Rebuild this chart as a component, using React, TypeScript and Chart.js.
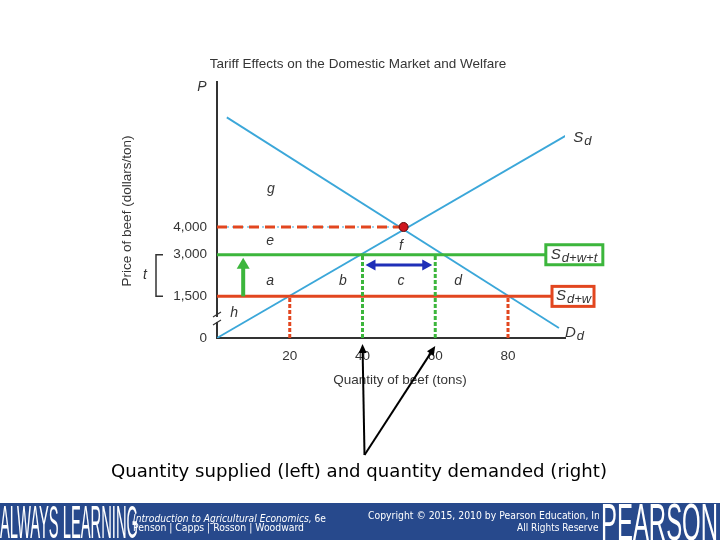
import React, { useEffect, useRef } from "react";
import { Chart, registerables } from "chart.js";
Chart.register(...registerables);

// ---------- data ----------
const xTickValues = [20, 40, 60, 80];
const yTickValues = [0, 1500, 3000, 4000];
const xMax = 95.67;
const yMax = 9225;
const supplyQ = [0, 96];
const supplyP = [0, 7300];
const demandQ = [2.7, 94];
const demandP = [7950, 360];
const worldPrice = 1500;
const tariffPrice = 3000;
const autarkyPrice = 4000;
const autarkyQ = 51.3;
const worldLineEndQ = 92.1;
const tariffLineEndQ = 90.4;
const worldQs = [20, 80];
const tariffQs = [40, 60];
const areaLabels = ["g", "e", "f", "a", "b", "c", "d", "h"];
const areaQ = [14.8, 14.6, 50.6, 14.6, 34.6, 50.6, 66.3, 4.7];
const areaP = [5370, 3500, 3310, 2050, 2050, 2050, 2050, 900];
const tariffArrowQ = 7.2;
const importArrowP = 2630;
const breakP = 650;

const title = "Tariff Effects on the Domestic Market and Welfare";
const yTitle = "Price of beef (dollars/ton)";
const xTitle = "Quantity of beef (tons)";
const caption = "Quantity supplied (left) and quantity demanded (right)";

const BLUE = "#3ba7d9";
const RED = "#e2461f";
const GREEN = "#3cb63c";
const NAVY = "#1f2fb8";
const TEXT = "#353535";
const FONT = "'Liberation Sans', Arial, sans-serif";
const VFONT = "'DejaVu Sans', Verdana, sans-serif";

function pts(xs: number[], ys: number[]) {
  return xs.map((x, i) => ({ x, y: ys[i] }));
}

function fitText(ctx: CanvasRenderingContext2D, text: string, x: number, y: number, width: number, font: string) {
  ctx.save();
  ctx.font = font;
  const w = ctx.measureText(text).width;
  ctx.translate(x, y);
  ctx.scale(width / w, 1);
  ctx.textAlign = "left";
  ctx.textBaseline = "alphabetic";
  ctx.fillText(text, 0, 0);
  ctx.restore();
}

function head(ctx: CanvasRenderingContext2D, x1: number, y1: number, x2: number, y2: number, len: number, half: number) {
  const a = Math.atan2(y2 - y1, x2 - x1);
  const c = Math.cos(a), s = Math.sin(a);
  ctx.beginPath();
  ctx.moveTo(x2, y2);
  ctx.lineTo(x2 - len * c + half * s, y2 - len * s - half * c);
  ctx.lineTo(x2 - len * c - half * s, y2 - len * s + half * c);
  ctx.closePath();
  ctx.fill();
}

function subLabel(ctx: CanvasRenderingContext2D, x: number, y: number, main: string, sub: string) {
  ctx.save();
  ctx.fillStyle = TEXT;
  ctx.textAlign = "left";
  ctx.textBaseline = "alphabetic";
  ctx.font = `italic 15px ${FONT}`;
  ctx.fillText(main, x, y);
  const w = ctx.measureText(main).width;
  ctx.font = `italic 13px ${FONT}`;
  ctx.fillText(sub, x + w + 1, y + 3);
  ctx.restore();
}

const annotations = {
  id: "annotations",
  afterDatasetsDraw(chart: any) {
    const ctx: CanvasRenderingContext2D = chart.ctx;
    const xs = chart.scales.x;
    const ys = chart.scales.y;
    const X = (v: number) => xs.getPixelForValue(v);
    const Y = (v: number) => ys.getPixelForValue(v);
    const area = chart.chartArea;

    ctx.save();
    // title
    ctx.fillStyle = TEXT;
    ctx.font = `13.5px ${FONT}`;
    ctx.textAlign = "center";
    ctx.textBaseline = "middle";
    ctx.fillText(title, 358, 64);
    // x title
    ctx.fillText(xTitle, 400, 380);
    // y title
    ctx.save();
    ctx.translate(127, 211);
    ctx.rotate(-Math.PI / 2);
    ctx.fillText(yTitle, 0, 0);
    ctx.restore();
    // P label
    ctx.font = `italic 14px ${FONT}`;
    ctx.fillText("P", area.left - 15, area.top + 5);

    // t bracket
    const yT = Y(tariffPrice), yW = Y(worldPrice);
    ctx.strokeStyle = "#333";
    ctx.lineWidth = 1.5;
    ctx.beginPath();
    ctx.moveTo(163, yT);
    ctx.lineTo(156, yT);
    ctx.lineTo(156, yW);
    ctx.lineTo(163, yW);
    ctx.stroke();
    ctx.fillText("t", 145, (yT + yW) / 2);

    // axis break marks
    const yb = Y(breakP);
    ctx.fillStyle = "#fff";
    ctx.fillRect(area.left - 2, yb - 3, 4, 5);
    ctx.strokeStyle = "#333";
    ctx.lineWidth = 1.2;
    ctx.beginPath();
    ctx.moveTo(area.left - 4, yb - 3);
    ctx.lineTo(area.left + 4, yb - 8);
    ctx.moveTo(area.left - 4, yb + 5);
    ctx.lineTo(area.left + 4, yb);
    ctx.stroke();

    // area letters
    ctx.fillStyle = TEXT;
    ctx.font = `italic 14px ${FONT}`;
    areaLabels.forEach((l, i) => ctx.fillText(l, X(areaQ[i]), Y(areaP[i])));

    // Sd / Dd labels
    const sx = X(supplyQ[1]), sy = Y(supplyP[1]);
    subLabel(ctx, sx + 7, sy + 7, "S", "d");
    const dx = X(demandQ[1]), dy = Y(demandP[1]);
    subLabel(ctx, dx + 6, dy + 9, "D", "d");

    // boxes
    const gx = X(tariffLineEndQ);
    ctx.fillStyle = "#fff";
    ctx.fillRect(gx, yT - 10, 57, 20);
    ctx.strokeStyle = GREEN;
    ctx.lineWidth = 3;
    ctx.strokeRect(gx, yT - 10, 57, 20);
    subLabel(ctx, gx + 5, yT + 4, "S", "d+w+t");
    const rx = X(worldLineEndQ);
    ctx.fillStyle = "#fff";
    ctx.fillRect(rx, yW - 10, 42, 20);
    ctx.strokeStyle = RED;
    ctx.lineWidth = 3;
    ctx.strokeRect(rx, yW - 10, 42, 20);
    subLabel(ctx, rx + 4, yW + 4, "S", "d+w");

    // green tariff arrow
    const ga = X(tariffArrowQ);
    ctx.strokeStyle = GREEN;
    ctx.fillStyle = GREEN;
    ctx.lineWidth = 4;
    ctx.beginPath();
    ctx.moveTo(ga, yW);
    ctx.lineTo(ga, yT + 12);
    ctx.stroke();
    head(ctx, ga, yW, ga, yT + 3, 11, 6.5);

    // blue import arrow
    const ba = Y(importArrowP);
    const b1 = X(tariffQs[0]) + 3, b2 = X(tariffQs[1]) - 3;
    ctx.strokeStyle = NAVY;
    ctx.fillStyle = NAVY;
    ctx.lineWidth = 3;
    ctx.beginPath();
    ctx.moveTo(b1 + 8, ba);
    ctx.lineTo(b2 - 8, ba);
    ctx.stroke();
    head(ctx, b2, ba, b1, ba, 10, 5.5);
    head(ctx, b1, ba, b2, ba, 10, 5.5);

    // black pointer arrows
    const baseX = X(tariffQs[0]) + 2, baseY = 455;
    ctx.strokeStyle = "#000";
    ctx.fillStyle = "#000";
    ctx.lineWidth = 2;
    const tips = [
      [X(tariffQs[0]), 344],
      [X(tariffQs[1]), 346],
    ];
    tips.forEach(([tx, ty]) => {
      const a = Math.atan2(ty - baseY, tx - baseX);
      ctx.beginPath();
      ctx.moveTo(baseX, baseY);
      ctx.lineTo(tx - 7 * Math.cos(a), ty - 7 * Math.sin(a));
      ctx.stroke();
      head(ctx, baseX, baseY, tx, ty, 9, 4);
    });

    // caption
    ctx.fillStyle = "#000";
    fitText(ctx, caption, 111, 477, 496, `17px ${VFONT}`);

    // footer
    ctx.fillStyle = "#27498c";
    ctx.fillRect(0, 503, 720, 37);
    ctx.fillStyle = "#fff";
    fitText(ctx, "ALWAYS LEARNING", 0, 538, 138, `46px ${FONT}`);
    // line 1 mixed italic/normal
    ctx.save();
    ctx.font = `italic 10px ${VFONT}`;
    const p1 = "Introduction to Agricultural Economics,";
    const w1 = ctx.measureText(p1).width;
    ctx.font = `10px ${VFONT}`;
    const p2 = " 6e";
    const w2 = ctx.measureText(p2).width;
    const sc = 193 / (w1 + w2);
    ctx.translate(133, 519);
    ctx.scale(sc, 1);
    ctx.textAlign = "left";
    ctx.font = `italic 10px ${VFONT}`;
    ctx.fillText(p1, 0, 0);
    ctx.font = `10px ${VFONT}`;
    ctx.fillText(p2, w1, 0);
    ctx.restore();
    fitText(ctx, "Penson | Capps | Rosson | Woodward", 133, 531, 171, `10px ${VFONT}`);
    fitText(ctx, "Copyright \u00A9 2015, 2010 by Pearson Education, Inc.", 368, 519, 240, `10px ${VFONT}`);
    fitText(ctx, "All Rights Reserved.", 517, 531, 90, `10px ${VFONT}`);
    ctx.fillStyle = "#27498c";
    ctx.fillRect(599, 503, 121, 37);
    ctx.fillStyle = "#fff";
    fitText(ctx, "PEARSON", 601, 540, 117, `51px ${FONT}`);
    ctx.restore();
  },
};

export default function App() {
  const ref = useRef<HTMLCanvasElement | null>(null);
  useEffect(() => {
    if (!ref.current) return;
    const line = (data: any[], color: string, width: number, dash: number[] = []) => ({
      data,
      showLine: true,
      borderColor: color,
      backgroundColor: color,
      borderWidth: width,
      borderDash: dash,
      pointRadius: 0,
      fill: false,
    });
    const datasets: any[] = [
      {
        data: [{ x: autarkyQ, y: autarkyPrice }],
        pointRadius: 4.5,
        backgroundColor: "#cf1820",
        borderColor: "#5a0a0a",
        borderWidth: 1,
        showLine: false,
      },
      line([{ x: 0, y: autarkyPrice }, { x: autarkyQ, y: autarkyPrice }], RED, 3, [10, 6]),
      line([{ x: 0, y: autarkyPrice }, { x: autarkyQ, y: autarkyPrice }], BLUE, 1, [2, 3]),
      ...tariffQs.map((q) => line([{ x: q, y: 0 }, { x: q, y: tariffPrice }], GREEN, 3, [4, 2])),
      ...worldQs.map((q) => line([{ x: q, y: 0 }, { x: q, y: worldPrice }], RED, 3, [4, 2])),
      line([{ x: 0, y: tariffPrice }, { x: tariffLineEndQ, y: tariffPrice }], GREEN, 3),
      line([{ x: 0, y: worldPrice }, { x: worldLineEndQ, y: worldPrice }], RED, 3),
      line(pts(supplyQ, supplyP), BLUE, 1.8),
      line(pts(demandQ, demandP), BLUE, 1.8),
    ];
    const chart = new Chart(ref.current, {
      type: "scatter",
      data: { datasets },
      options: {
        animation: false,
        responsive: false,
        maintainAspectRatio: false,
        layout: { padding: { left: 110, top: 82, right: 155, bottom: 160 } },
        plugins: { legend: { display: false }, tooltip: { enabled: false } },
        scales: {
          x: {
            type: "linear",
            min: 0,
            max: xMax,
            grid: { display: false, drawTicks: false },
            border: { display: true, color: "#333", width: 2 },
            ticks: {
              padding: 10,
              color: TEXT,
              font: { family: FONT, size: 13.5 },
              callback: (v: any) => String(v),
            },
            afterBuildTicks: (s: any) => {
              s.ticks = xTickValues.map((v) => ({ value: v }));
            },
            afterFit: (s: any) => {
              s.height = 42;
            },
          },
          y: {
            type: "linear",
            min: 0,
            max: yMax,
            grid: { display: false, drawTicks: false },
            border: { display: true, color: "#333", width: 2 },
            ticks: {
              padding: 10,
              color: TEXT,
              font: { family: FONT, size: 13.5 },
              callback: (v: any) => Number(v).toLocaleString("en-US"),
            },
            afterBuildTicks: (s: any) => {
              s.ticks = yTickValues.map((v) => ({ value: v }));
            },
            afterFit: (s: any) => {
              s.width = 107;
            },
          },
        },
      } as any,
      plugins: [annotations],
    });
    return () => chart.destroy();
  }, []);
  return (
    <div style={{ position: "fixed", left: 0, top: 0, width: 720, height: 540, background: "#fff" }}>
      <canvas ref={ref} width={720} height={540} style={{ display: "block" }} />
    </div>
  );
}
